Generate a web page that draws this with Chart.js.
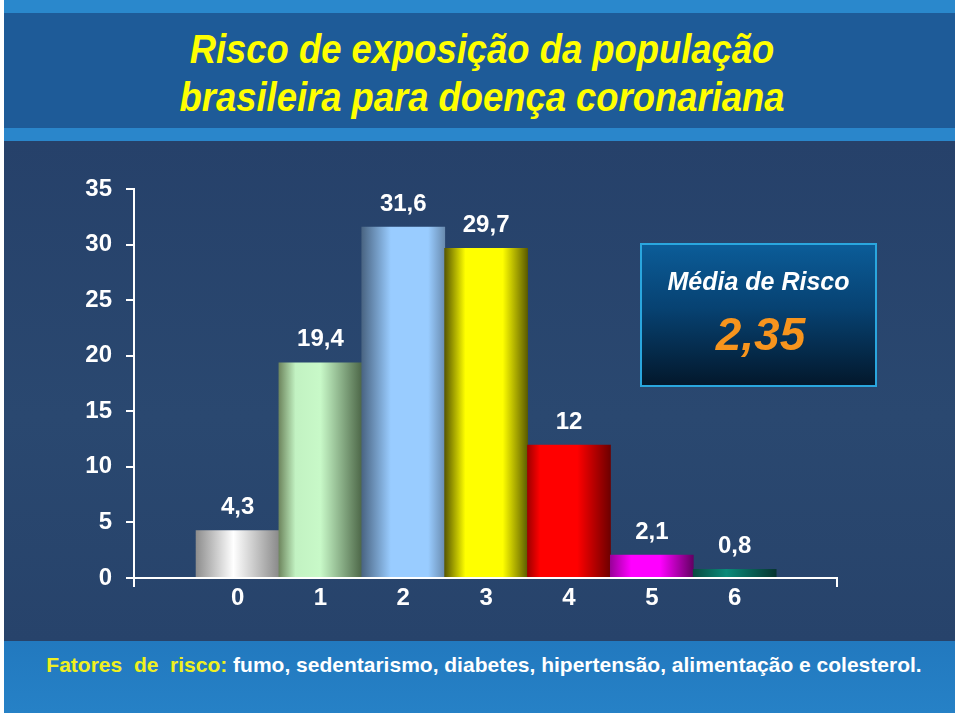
<!DOCTYPE html>
<html>
<head>
<meta charset="utf-8">
<script src="https://cdn.jsdelivr.net/npm/chart.js@4/dist/chart.umd.min.js"></script>
<style>
  html, body { margin: 0; padding: 0; background: #ffffff; }
  body { width: 960px; height: 716px; position: relative; overflow: hidden;
         font-family: "Liberation Sans", Arial, sans-serif; }
  .slide { position: absolute; left: 4px; top: 0; width: 951px; height: 713px; background: #28446c; }
  .band-top { position: absolute; left: 0; top: 0; width: 100%; height: 13px; background: #2a88cc; }
  .title-bg { position: absolute; left: 0; top: 13px; width: 100%; height: 115px; background: #1e5b98; }
  .band-mid { position: absolute; left: 0; top: 128px; width: 100%; height: 13px; background: #2a86cb; }
  .main-bg { position: absolute; left: 0; top: 141px; width: 100%; height: 500px;
             background: linear-gradient(180deg, #26416a 0%, #2a4870 55%, #27436b 100%); }
  .foot-bg { position: absolute; left: 0; top: 641px; width: 100%; height: 72px;
             background: linear-gradient(180deg, #2279bf 0%, #2681c6 100%); }
  .title { position: absolute; left: 0; top: 25px; width: 964px; text-align: center;
           color: #ffff00; font-weight: bold; font-style: italic; font-size: 40px; line-height: 48px;
           transform: scaleX(0.91); transform-origin: 482px 0; }
  .foot { position: absolute; left: 0; top: 653px; width: 968px; text-align: center; white-space: pre;
          color: #ffffff; font-weight: bold; font-size: 21px; line-height: 24px; }
  .foot span { color: #f0f020; }
  .box { position: absolute; left: 640px; top: 243px; width: 233px; height: 140px;
         border: 2px solid #2aa6de;
         background: linear-gradient(180deg, #0b5c98 0%, #074272 45%, #03182c 100%); }
  .box .lbl { position: absolute; left: 0; width: 100%; text-align: center; color: #ffffff;
              font-weight: bold; font-style: italic; font-size: 25px; top: 22px; }
  .box .val { position: absolute; left: 2px; width: 100%; text-align: center; color: #f7941d;
              font-weight: bold; font-style: italic; font-size: 46px; top: 62px; }
  #wrap { position: absolute; left: 0; top: 140px; width: 960px; height: 500px; }
</style>
</head>
<body>
<div class="slide">
  <div class="band-top"></div>
  <div class="title-bg"></div>
  <div class="band-mid"></div>
  <div class="main-bg"></div>
  <div class="foot-bg"></div>
</div>
<div class="title">Risco de exposição da população<br>brasileira para doença coronariana</div>
<div id="wrap"><canvas id="riskChart" width="960" height="500"></canvas></div>
<div class="box"><div class="lbl">Média de Risco</div><div class="val">2,35</div></div>
<div class="foot"><span>Fatores  de  risco:</span> fumo, sedentarismo, diabetes, hipertensão, alimentação e colesterol.</div>

<script>
const CATEGORIES = ["0", "1", "2", "3", "4", "5", "6"];
const VALUES = [4.3, 19.4, 31.6, 29.7, 12, 2.1, 0.8];
const Y_TICKS = [0, 5, 10, 15, 20, 25, 30, 35];

// left -> right shading of each bar
const BAR_SHADES = [
  [[0, "#8e8e8e"], [0.45, "#ffffff"], [1, "#8a8a8a"]],
  [[0, "#6f875f"], [0.2, "#c2f2c2"], [0.5, "#c8f9c8"], [1, "#4d6748"]],
  [[0, "#4a6583"], [0.35, "#99ccff"], [0.8, "#99ccff"], [1, "#6a8cb0"]],
  [[0, "#585800"], [0.25, "#ffff00"], [0.7, "#ffff00"], [1, "#5c5c00"]],
  [[0, "#a00000"], [0.15, "#ff0000"], [0.6, "#ff0000"], [1, "#6e0000"]],
  [[0, "#9a009a"], [0.25, "#ff00ff"], [0.6, "#ff00ff"], [1, "#640064"]],
  [[0, "#0a4a40"], [0.4, "#0a8a7a"], [1, "#063530"]]
];

const X_MIN = -1.25;
const X_MAX = 7.235;

function barFill(ctx) {
  const chart = ctx.chart;
  const shades = BAR_SHADES[ctx.dataIndex] || BAR_SHADES[0];
  if (!chart.chartArea) return shades[1][1];
  const xs = chart.scales.x;
  const w = xs.getPixelForValue(1) - xs.getPixelForValue(0);
  const cx = xs.getPixelForValue(ctx.dataIndex);
  const g = chart.ctx.createLinearGradient(cx - w / 2, 0, cx + w / 2, 0);
  shades.forEach(s => g.addColorStop(s[0], s[1]));
  return g;
}

const valueLabels = {
  id: "valueLabels",
  afterDatasetsDraw(chart) {
    const c = chart.ctx;
    const meta = chart.getDatasetMeta(0);
    c.save();
    c.fillStyle = "#ffffff";
    c.font = "bold 24px 'Liberation Sans', Arial, sans-serif";
    c.textAlign = "center";
    c.textBaseline = "alphabetic";
    meta.data.forEach((bar, i) => {
      c.fillText(String(VALUES[i]).replace(".", ","), bar.x, bar.y - 16);
    });
    c.restore();
  }
};

(function() {
  const ctx = document.getElementById("riskChart").getContext("2d");
  window.riskChart = new Chart(ctx, {
    type: "bar",
    data: {
      datasets: [
        {
          data: CATEGORIES.map((c, i) => ({ x: Number(c), y: VALUES[i] })),
          backgroundColor: barFill,
          borderWidth: 0,
          barPercentage: 1.01,
          categoryPercentage: 1
        }
      ]
    },
    options: {
      responsive: false,
      animation: false,
      layout: { padding: { left: 0, right: 123, top: 49, bottom: 0 } },
      plugins: { legend: { display: false }, tooltip: { enabled: false } },
      scales: {
        x: {
          type: "linear",
          min: X_MIN,
          max: X_MAX,
          offset: false,
          afterFit(scale) { scale.height = 62; },
          afterBuildTicks(scale) {
            scale.ticks = [X_MIN].concat(CATEGORIES.map(Number), [X_MAX]).map(v => ({ value: v }));
          },
          border: { color: "#ffffff", width: 2 },
          grid: {
            offset: false,
            drawOnChartArea: false,
            drawTicks: true,
            tickLength: 9,
            lineWidth: 2,
            color: c => (c.tick && (c.tick.value === X_MIN || c.tick.value === X_MAX)) ? "#ffffff" : "rgba(0,0,0,0)"
          },
          ticks: {
            autoSkip: false,
            maxRotation: 0,
            padding: -3,
            color: "#ffffff",
            font: { family: "'Liberation Sans', Arial, sans-serif", size: 24, weight: "bold" },
            callback: v => (CATEGORIES.includes(String(v)) ? String(v) : "")
          }
        },
        y: {
          min: 0,
          max: 35,
          afterFit(scale) { scale.width = 134; },
          afterBuildTicks(scale) { scale.ticks = Y_TICKS.map(v => ({ value: v })); },
          border: { color: "#ffffff", width: 2 },
          grid: {
            drawOnChartArea: false,
            drawTicks: true,
            tickLength: 8,
            lineWidth: 2,
            color: "#ffffff"
          },
          ticks: {
            padding: 14,
            color: "#ffffff",
            font: { family: "'Liberation Sans', Arial, sans-serif", size: 24, weight: "bold" }
          }
        }
      }
    },
    plugins: [valueLabels]
  });
})();
</script>
</body>
</html>
